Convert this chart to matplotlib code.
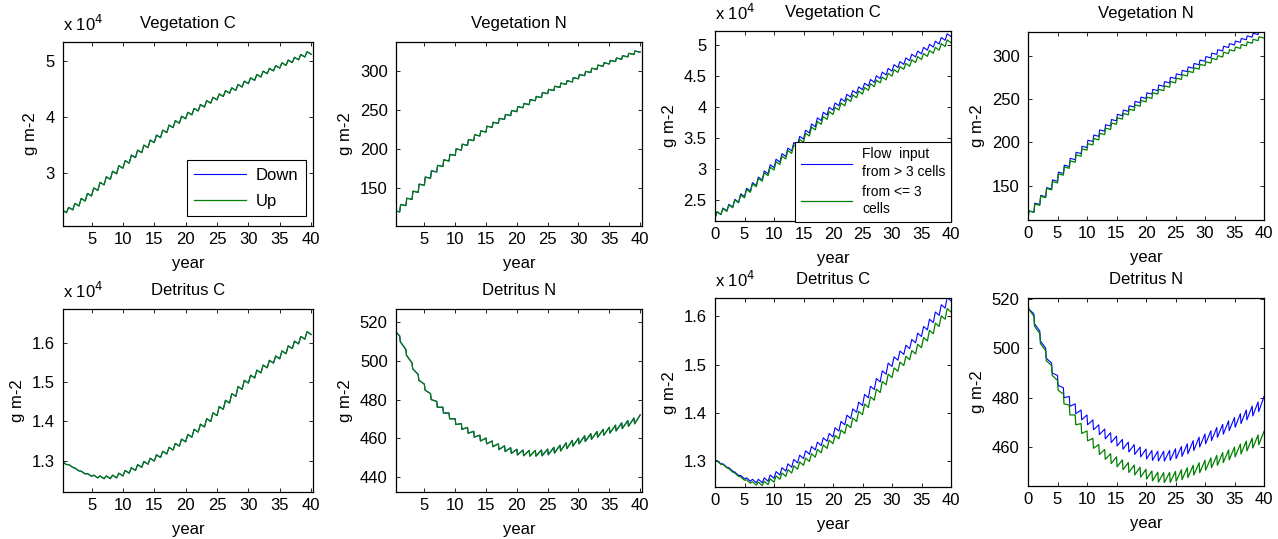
import matplotlib
matplotlib.use("Agg")
import matplotlib.pyplot as plt
from matplotlib.ticker import FuncFormatter

plt.rcParams['font.family'] = ['Liberation Sans', 'DejaVu Sans']
plt.rcParams['font.size'] = 12

years = list(range(41))

# yearly levels (g m-2), left figure: Down / Up
veg_c_down = [22200, 22800, 23300, 24000, 24900, 25800, 26800, 27800, 28800, 29800,
              30800, 31700, 32700, 33600, 34500, 35400, 36300, 37200, 38100, 38900,
              39700, 40400, 41100, 41800, 42500, 43100, 43700, 44300, 44800, 45400,
              46000, 46600, 47200, 47800, 48300, 48800, 49300, 49800, 50300, 50800, 51300]
veg_c_up = list(veg_c_down)

veg_n_down = [111, 120, 128, 136, 145, 154, 163, 171, 178, 185,
              192, 199, 205, 211, 217, 222, 228, 233, 238, 243,
              248, 253, 257, 262, 266, 271, 275, 279, 283, 286,
              290, 294, 298, 302, 306, 309, 312, 315, 318, 321, 324]
veg_n_up = list(veg_n_down)

det_c_down = [12950, 12900, 12830, 12740, 12660, 12600, 12560, 12540, 12540, 12560,
              12610, 12680, 12750, 12830, 12910, 12990, 13080, 13170, 13270, 13370,
              13480, 13600, 13730, 13860, 14000, 14150, 14310, 14470, 14640, 14820,
              14980, 15110, 15240, 15370, 15490, 15600, 15730, 15860, 15980, 16100, 16220]
det_c_up = list(det_c_down)

det_n_down = [519, 513, 506, 499, 493, 488, 483, 479, 476, 473,
              470, 467.5, 465.5, 463.5, 461.5, 460, 458.5, 457, 456, 455,
              454.2, 453.8, 453.6, 453.6, 453.8, 454.3, 455.2, 456.3, 457.5, 458.8,
              460, 461.2, 462.3, 463.4, 464.5, 465.6, 466.7, 467.9, 469.1, 470.4, 472]
det_n_up = list(det_n_down)

# right figure: flow input from > 3 cells / from <= 3 cells
veg_c_many = [22000, 22600, 23200, 23800, 24600, 25500, 26400, 27300, 28200, 29200,
              30200, 31100, 32000, 32900, 33800, 34800, 35800, 36800, 37800, 38700,
              39500, 40200, 40900, 41600, 42200, 42800, 43400, 44000, 44600, 45200,
              45800, 46400, 46900, 47500, 48100, 48600, 49200, 49700, 50200, 50800, 51400]
veg_c_few = [22000, 22600, 23100, 23700, 24500, 25300, 26200, 27100, 28000, 28900,
             29800, 30700, 31600, 32500, 33400, 34300, 35300, 36300, 37200, 38000,
             38800, 39500, 40200, 40900, 41500, 42100, 42700, 43300, 43900, 44400,
             45000, 45600, 46100, 46600, 47200, 47700, 48200, 48700, 49200, 49800, 50400]

veg_n_many = [110, 119, 128, 137, 146, 155, 164, 172, 180, 187,
              194, 201, 207, 213, 219, 225, 231, 236, 241, 246,
              251, 256, 260, 265, 269, 274, 278, 282, 286, 290,
              294, 298, 302, 306, 310, 313, 316, 319, 322, 325, 328]
veg_n_few = [110, 119, 127, 136, 145, 153, 162, 170, 177, 184,
             191, 197, 203, 209, 215, 221, 227, 232, 237, 242,
             247, 251, 256, 260, 264, 269, 273, 277, 281, 285,
             289, 292, 296, 299, 303, 306, 309, 312, 315, 318, 321]

det_c_many = [13000, 12940, 12870, 12790, 12700, 12630, 12580, 12550, 12550, 12580,
              12640, 12710, 12790, 12870, 12960, 13050, 13140, 13230, 13320, 13410,
              13500, 13620, 13750, 13880, 14010, 14150, 14310, 14480, 14640, 14800,
              14960, 15090, 15210, 15330, 15450, 15580, 15720, 15870, 16020, 16170, 16320]
det_c_few = [13000, 12930, 12860, 12770, 12680, 12600, 12540, 12500, 12490, 12510,
             12560, 12620, 12680, 12750, 12830, 12910, 12990, 13080, 13170, 13260,
             13360, 13460, 13570, 13690, 13820, 13960, 14110, 14260, 14420, 14580,
             14730, 14860, 14980, 15100, 15220, 15350, 15490, 15640, 15790, 15940, 16090]

det_n_many = [520, 514, 507, 500, 494, 489, 484, 480.5, 477.5, 475,
              473, 471, 469, 467.3, 465.8, 464.4, 463.1, 462, 461, 460,
              459.2, 458.6, 458.3, 458.3, 458.6, 459.3, 460.2, 461.3, 462.6, 464,
              465.3, 466.6, 467.9, 469.2, 470.6, 472, 473.5, 475, 476.6, 478.3, 480.5]
det_n_few = [520, 513, 506, 499, 493, 487, 481.5, 477, 473, 469.5,
             466.5, 463.5, 461, 459, 457.3, 456, 454.8, 453.7, 452.7, 451.8,
             451, 450.3, 449.8, 449.6, 449.7, 450.1, 450.8, 451.6, 452.6, 453.6,
             454.6, 455.6, 456.6, 457.7, 458.8, 460, 461.2, 462.4, 463.6, 464.9, 466.3]

# within-year shape: (fraction of year, weight to next level, offset)
veg_c_cycle = ([0, 0.35], [0, 1], [0, 450])
veg_n_cycle = ([0, 0.15], [0, 1], [0, 1.5])
det_c_cycle = ([0, 0.35], [0, 1], [0, 70])
det_n_cycle_left = ([0, 0.1], [0, 0], [0, -3])
det_n_cycle_right = ([0, 0.1], [0, 0], [0, -4])

BLUE = (0, 0, 1)
GREEN = (0, 0.5, 0)


def with_seasons(levels, cycle):
    frac, wt, amp = cycle
    xs, ys = [], []
    for k in range(len(levels) - 1):
        for f, w, a in zip(frac, wt, amp):
            xs.append(years[k] + f)
            ys.append(levels[k] + w * (levels[k + 1] - levels[k]) + a)
    xs.append(years[-1])
    ys.append(levels[-1])
    return xs, ys


def style_axes(ax, xlim, xticks, ylim, yticks, title, sci):
    ax.set_xlim(xlim)
    ax.set_xticks(xticks)
    ax.set_ylim(ylim)
    ax.set_yticks(yticks)
    ax.yaxis.set_major_formatter(FuncFormatter(lambda v, p: '%g' % v))
    ax.tick_params(direction='in', top=True, right=True, length=3, width=0.6,
                   labelsize=12)
    ax.tick_params(axis='y', pad=6)
    ax.tick_params(axis='x', pad=4)
    for s in ax.spines.values():
        s.set_linewidth(0.9)
    ax.set_title(title, fontsize=12, pad=10)
    ax.set_xlabel('year', fontsize=12, labelpad=7)
    ax.set_ylabel('g m-2', fontsize=12, labelpad=5)
    if sci:
        ax.annotate(r'x 10$^{4}$', xy=(0, 1), xycoords='axes fraction',
                    xytext=(0, 6), textcoords='offset points', ha='left', va='bottom',
                    fontsize=12)


fig = plt.figure(figsize=(12.78, 5.39), dpi=100)

# pixel boxes (left, top, right, bottom) measured on the reference
boxes = [(63, 42, 313, 226), (396, 42, 642, 226), (715, 31, 951, 221), (1028, 32, 1264, 220),
         (63, 309, 313, 492), (396, 309, 642, 492), (715, 298, 951, 487), (1028, 298, 1264, 486)]
W, H = 1278, 539
axs = []
for l, t, r, b in boxes:
    axs.append(fig.add_axes([l / W, 1 - b / H, (r - l) / W, (b - t) / H]))

left_ticks = [5, 10, 15, 20, 25, 30, 35, 40]
right_ticks = [0, 5, 10, 15, 20, 25, 30, 35, 40]

panels = [
    (axs[0], veg_c_down, veg_c_up, veg_c_cycle, 1e4, (0.45, 40.3), left_ticks,
     (2.04, 5.35), [3, 4, 5], 'Vegetation C', True),
    (axs[1], veg_n_down, veg_n_up, veg_n_cycle, 1, (0.4, 40.3), left_ticks,
     (102, 337), [150, 200, 250, 300], 'Vegetation N', False),
    (axs[2], veg_c_many, veg_c_few, veg_c_cycle, 1e4, (0, 40), right_ticks,
     (2.155, 5.23), [2.5, 3, 3.5, 4, 4.5, 5], 'Vegetation C', True),
    (axs[3], veg_n_many, veg_n_few, veg_n_cycle, 1, (0, 40), right_ticks,
     (110, 328), [150, 200, 250, 300], 'Vegetation N', False),
    (axs[4], det_c_down, det_c_up, det_c_cycle, 1e4, (0.45, 40.3), left_ticks,
     (1.22, 1.687), [1.3, 1.4, 1.5, 1.6], 'Detritus C', True),
    (axs[5], det_n_down, det_n_up, det_n_cycle_left, 1, (0.4, 40.3), left_ticks,
     (432, 527), [440, 460, 480, 500, 520], 'Detritus N', False),
    (axs[6], det_c_many, det_c_few, det_c_cycle, 1e4, (0, 40), right_ticks,
     (1.246, 1.638), [1.3, 1.4, 1.5, 1.6], 'Detritus C', True),
    (axs[7], det_n_many, det_n_few, det_n_cycle_right, 1, (0, 40), right_ticks,
     (444.2, 520.4), [460, 480, 500, 520], 'Detritus N', False),
]

lines = {}
for i, (ax, s1, s2, cyc, scale, xl, xt, yl, yt, title, sci) in enumerate(panels):
    x1, y1 = with_seasons(s1, cyc)
    x2, y2 = with_seasons(s2, cyc)
    l1, = ax.plot(x1, [v / scale for v in y1], color=BLUE, lw=0.8)
    l2, = ax.plot(x2, [v / scale for v in y2], color=GREEN, lw=0.9)
    lines[i] = (l1, l2)
    style_axes(ax, xl, xt, yl, yt, title, sci)

leg = axs[0].legend(lines[0], ['Down', 'Up'], loc='lower right',
                    bbox_to_anchor=(0.972, 0.054), borderaxespad=0, fancybox=False,
                    edgecolor='black', framealpha=1, fontsize=12, handlelength=3.1,
                    handletextpad=0.6, borderpad=0.45, labelspacing=0.65)
leg.get_frame().set_linewidth(0.8)

leg2 = axs[2].legend(lines[2], ['Flow  input\nfrom > 3 cells', 'from <= 3\ncells'],
                     loc='lower right', bbox_to_anchor=(1.0, -0.005), borderaxespad=0,
                     fancybox=False, edgecolor='black', framealpha=1, fontsize=10,
                     handlelength=3.7, borderpad=0.4, labelspacing=0.4, handletextpad=0.7)
for t in leg2.get_texts():
    t.set_linespacing(1.35)
leg2.get_frame().set_linewidth(0.8)

fig.savefig('out.png', dpi=100)
